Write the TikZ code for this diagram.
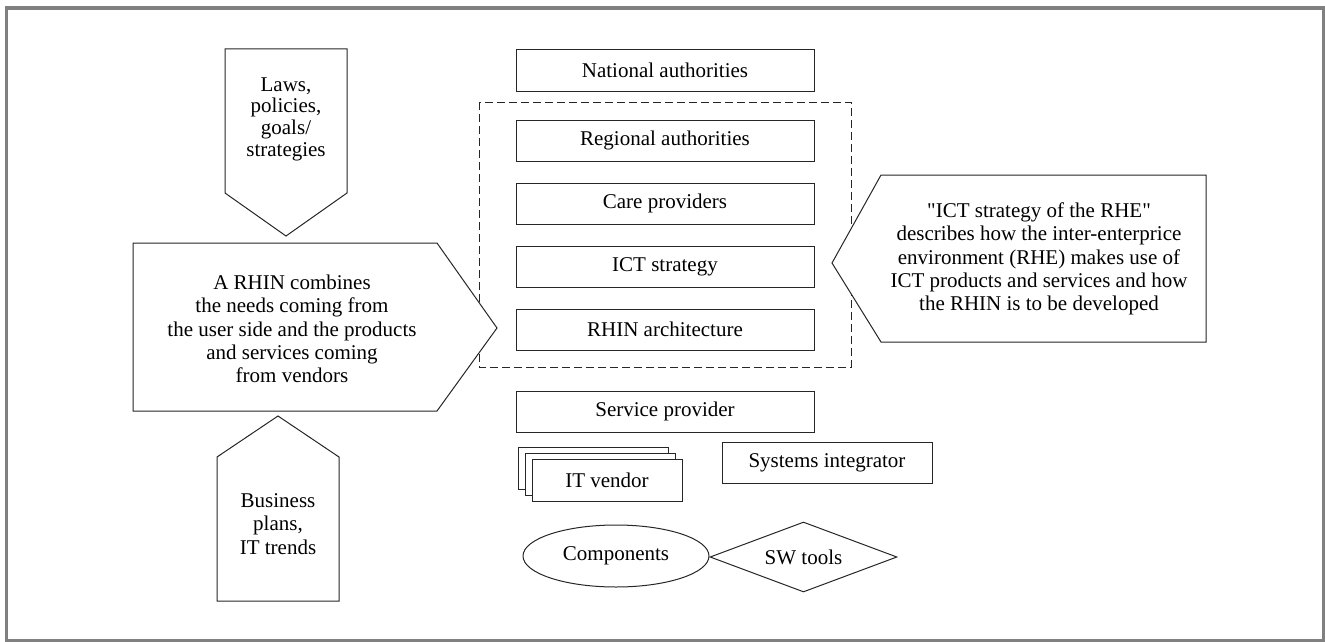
\documentclass[tikz,border=0pt]{standalone}
\usepackage{fontspec}
\setmainfont{Liberation Serif}
\usetikzlibrary{positioning,shapes.geometric}
\newcommand\dq{\XeTeXglyph\XeTeXcharglyph"22\relax}

\begin{document}
\begin{tikzpicture}[x=1pt,y=-1pt,node distance=21pt,
  every node/.style={font=\fontsize{21}{23.3}\selectfont},
  line/.style={draw=black!85,line width=1pt},
  box/.style={line,rectangle,minimum width=298pt,minimum height=41pt,inner sep=0pt},
  vbox/.style={line,fill=white,minimum width=150pt,minimum height=42pt,inner sep=0pt},
  txt/.style={align=center,inner sep=0pt}]
\useasboundingbox (0,0) rectangle (1325,642);
\draw[black!50,line width=3.5pt] (6.7,8) rectangle (1324,640.7);

% centre column
\node[box] (Nat) at (665,70.5) {National authorities};
\node[box] (Reg) [below=28pt of Nat] {Regional authorities};
\node[box] (Care) [below=of Reg] {Care providers};
\node[box] (ICT) [below=of Care] {ICT strategy};
\node[box] (Arch) [below=of ICT] {RHIN architecture};
\node[box] (Serv) [below=40pt of Arch] {Service provider};
\draw[line,dash pattern=on 8pt off 4pt] (479,102) rectangle (851,367);

% vendors
\node[vbox] (V3) at (593,468) {};
\node[vbox] (V2) at (600,474) {};
\node[vbox] (V) at (607,480) {IT vendor};
\node[line,minimum width=210pt,minimum height=41pt,inner sep=0pt] (SI) at (827,462.5) {Systems integrator};
\node[line,ellipse,minimum width=186pt,minimum height=62pt,inner sep=0pt] (Comp) at (616,556) {Components};
\node[line,diamond,aspect=2.67,minimum width=187pt,minimum height=70pt,inner sep=0pt] (SW) at (803.5,557) {SW tools};

% arrows
\draw[line] (225,49) -- (347,49) -- (347,193) -- (286,236) -- (225,193) -- cycle;
\node[txt,font=\fontsize{21}{21.7}\selectfont] (Laws) at (286,119) {Laws,\\policies,\\goals/\\strategies};
\draw[line] (217,601) -- (217,457) -- (278,416) -- (339,457) -- (339,601) -- cycle;
\node[txt] (Bus) at (278,524) {Business\\plans,\\IT trends};
\draw[line,fill=white] (133,243) -- (437,243) -- (497,328) -- (437,411) -- (133,411) -- cycle;
\node[txt] (RHIN) at (292,329) {A RHIN combines\\the needs coming from\\the user side and the products\\and services coming\\from vendors};
\draw[line,fill=white] (832,263) -- (881,175) -- (1206,175) -- (1206,342) -- (881,342) -- cycle;
\node[txt] (RHE) at (1039,259) {\dq ICT strategy of the RHE\dq\\describes how the inter-enterprice\\environment (RHE) makes use of\\ICT products and services and how\\the RHIN is to be developed};
\end{tikzpicture}
\end{document}
